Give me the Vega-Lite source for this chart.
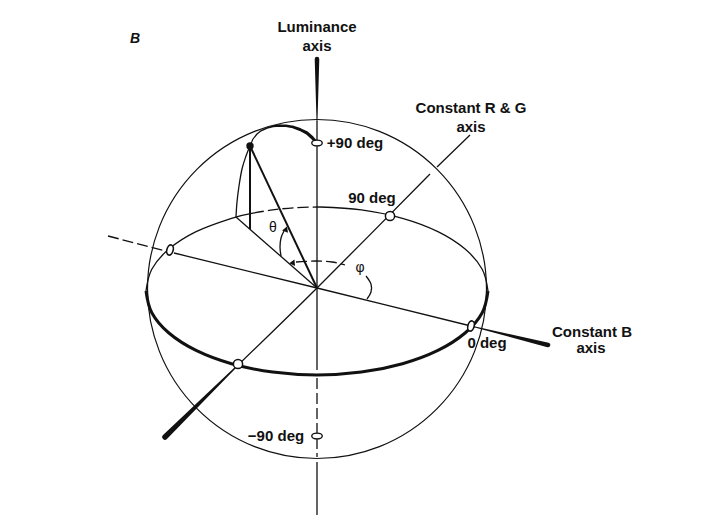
{
  "$schema": "https://vega.github.io/schema/vega-lite/v6.json",
  "width": 716,
  "height": 520,
  "autosize": {"type": "fit", "contains": "padding"},
  "padding": 0,
  "background": "white",
  "config": {"view": {"stroke": null}},
  "datasets": {
    "lines": [
      {"s": "lumIn", "k": "thin", "o": 1, "x": 317, "y": 121},
      {"s": "lumIn", "k": "thin", "o": 2, "x": 317, "y": 370},
      {"s": "lumBot", "k": "thin", "o": 1, "x": 317, "y": 462},
      {"s": "lumBot", "k": "thin", "o": 2, "x": 317, "y": 515},
      {"s": "rgTop", "k": "thin", "o": 1, "x": 470, "y": 135},
      {"s": "rgTop", "k": "thin", "o": 2, "x": 437, "y": 167},
      {"s": "rgIn", "k": "thin", "o": 1, "x": 430, "y": 174},
      {"s": "rgIn", "k": "thin", "o": 2, "x": 317, "y": 288},
      {"s": "rgIn", "k": "thin", "o": 3, "x": 236, "y": 367},
      {"s": "bIn", "k": "thin", "o": 1, "x": 174, "y": 253},
      {"s": "bIn", "k": "thin", "o": 2, "x": 317, "y": 288},
      {"s": "bIn", "k": "thin", "o": 3, "x": 475, "y": 327},
      {"s": "eqBL", "k": "thin", "o": 1, "x": 146, "y": 291},
      {"s": "eqBL", "k": "thin", "o": 2, "x": 151.8, "y": 269.3},
      {"s": "eqBL", "k": "thin", "o": 3, "x": 168.9, "y": 249},
      {"s": "eqBL", "k": "thin", "o": 4, "x": 196.1, "y": 231.6},
      {"s": "eqBL", "k": "thin", "o": 5, "x": 231.5, "y": 218.3},
      {"s": "eqBL", "k": "thin", "o": 6, "x": 253, "y": 213.1},
      {"s": "eqBR", "k": "thin", "o": 1, "x": 320, "y": 207},
      {"s": "eqBR", "k": "thin", "o": 2, "x": 361.3, "y": 209.9},
      {"s": "eqBR", "k": "thin", "o": 3, "x": 402.5, "y": 218.3},
      {"s": "eqBR", "k": "thin", "o": 4, "x": 437.9, "y": 231.6},
      {"s": "eqBR", "k": "thin", "o": 5, "x": 465.1, "y": 249},
      {"s": "eqBR", "k": "thin", "o": 6, "x": 482.2, "y": 269.3},
      {"s": "eqBR", "k": "thin", "o": 7, "x": 488, "y": 291},
      {"s": "mer", "k": "thin", "o": 1, "x": 250, "y": 146},
      {"s": "mer", "k": "thin", "o": 2, "x": 246, "y": 156},
      {"s": "mer", "k": "thin", "o": 3, "x": 242, "y": 169},
      {"s": "mer", "k": "thin", "o": 4, "x": 239, "y": 186},
      {"s": "mer", "k": "thin", "o": 5, "x": 237, "y": 202},
      {"s": "mer", "k": "thin", "o": 6, "x": 236, "y": 217},
      {"s": "proj", "k": "thin", "o": 1, "x": 236, "y": 217},
      {"s": "proj", "k": "thin", "o": 2, "x": 317, "y": 288},
      {"s": "th", "k": "thin", "o": 1, "x": 281, "y": 256},
      {"s": "th", "k": "thin", "o": 2, "x": 280, "y": 247},
      {"s": "th", "k": "thin", "o": 3, "x": 281, "y": 238},
      {"s": "th", "k": "thin", "o": 4, "x": 284, "y": 231},
      {"s": "phS", "k": "thin", "o": 1, "x": 366, "y": 276},
      {"s": "phS", "k": "thin", "o": 2, "x": 371, "y": 284},
      {"s": "phS", "k": "thin", "o": 3, "x": 371, "y": 292},
      {"s": "phS", "k": "thin", "o": 4, "x": 367, "y": 299},
      {"s": "bL", "k": "dash", "o": 1, "x": 108, "y": 236},
      {"s": "bL", "k": "dash", "o": 2, "x": 166, "y": 251},
      {"s": "eqBM", "k": "dash", "o": 1, "x": 253, "y": 213.1},
      {"s": "eqBM", "k": "dash", "o": 2, "x": 272.7, "y": 209.9},
      {"s": "eqBM", "k": "dash", "o": 3, "x": 295, "y": 207.7},
      {"s": "eqBM", "k": "dash", "o": 4, "x": 320, "y": 207},
      {"s": "phD", "k": "dash", "o": 1, "x": 296, "y": 262},
      {"s": "phD", "k": "dash", "o": 2, "x": 315, "y": 261},
      {"s": "phD", "k": "dash", "o": 3, "x": 332, "y": 262},
      {"s": "phD", "k": "dash", "o": 4, "x": 345, "y": 265},
      {"s": "lumD", "k": "dash", "o": 1, "x": 317, "y": 378},
      {"s": "lumD", "k": "dash", "o": 2, "x": 317, "y": 457},
      {"s": "eqF", "k": "thick", "o": 1, "x": 488, "y": 291},
      {"s": "eqF", "k": "thick", "o": 2, "x": 482.2, "y": 312.7},
      {"s": "eqF", "k": "thick", "o": 3, "x": 465.1, "y": 333},
      {"s": "eqF", "k": "thick", "o": 4, "x": 437.9, "y": 350.4},
      {"s": "eqF", "k": "thick", "o": 5, "x": 402.5, "y": 363.7},
      {"s": "eqF", "k": "thick", "o": 6, "x": 361.3, "y": 372.1},
      {"s": "eqF", "k": "thick", "o": 7, "x": 317, "y": 375},
      {"s": "eqF", "k": "thick", "o": 8, "x": 272.7, "y": 372.1},
      {"s": "eqF", "k": "thick", "o": 9, "x": 231.5, "y": 363.7},
      {"s": "eqF", "k": "thick", "o": 10, "x": 196.1, "y": 350.4},
      {"s": "eqF", "k": "thick", "o": 11, "x": 168.9, "y": 333},
      {"s": "eqF", "k": "thick", "o": 12, "x": 151.8, "y": 312.7},
      {"s": "eqF", "k": "thick", "o": 13, "x": 146, "y": 291},
      {"s": "vec", "k": "med", "o": 1, "x": 250, "y": 146},
      {"s": "vec", "k": "med", "o": 2, "x": 317, "y": 288},
      {"s": "drop", "k": "med", "o": 1, "x": 250, "y": 146},
      {"s": "drop", "k": "med", "o": 2, "x": 250, "y": 229}
    ],
    "trails": [
      {"s": "lumT", "o": 1, "x": 317, "y": 59, "tp": 0.8},
      {"s": "lumT", "o": 2, "x": 317, "y": 121, "tp": 0.02},
      {"s": "rgL", "o": 1, "x": 236, "y": 367, "tp": 0.1},
      {"s": "rgL", "o": 2, "x": 165, "y": 437, "tp": 1},
      {"s": "bR", "o": 1, "x": 475, "y": 327, "tp": 0.08},
      {"s": "bR", "o": 2, "x": 548, "y": 345, "tp": 0.8},
      {"s": "arc", "o": 1, "x": 317, "y": 143, "tp": 0.5},
      {"s": "arc", "o": 2, "x": 312, "y": 137.5, "tp": 0.5},
      {"s": "arc", "o": 3, "x": 307, "y": 133, "tp": 0.48},
      {"s": "arc", "o": 4, "x": 300, "y": 129.5, "tp": 0.45},
      {"s": "arc", "o": 5, "x": 293, "y": 127, "tp": 0.4},
      {"s": "arc", "o": 6, "x": 286, "y": 125.7, "tp": 0.35},
      {"s": "arc", "o": 7, "x": 280, "y": 125.5, "tp": 0.3},
      {"s": "arc", "o": 8, "x": 273, "y": 126.3, "tp": 0.22},
      {"s": "arc", "o": 9, "x": 267, "y": 128, "tp": 0.15},
      {"s": "arc", "o": 10, "x": 261, "y": 130.8, "tp": 0.1},
      {"s": "arc", "o": 11, "x": 257, "y": 134, "tp": 0.08},
      {"s": "arc", "o": 12, "x": 253, "y": 139, "tp": 0.06},
      {"s": "arc", "o": 13, "x": 250, "y": 146, "tp": 0.05}
    ],
    "pts": [
      {"k": "sphere", "x": 317, "y": 289},
      {"k": "dot", "x": 250, "y": 146},
      {"k": "mh", "x": 317, "y": 143},
      {"k": "mh", "x": 317, "y": 436},
      {"k": "mc", "x": 390, "y": 216},
      {"k": "mc", "x": 238, "y": 364},
      {"k": "mv", "x": 170, "y": 250},
      {"k": "mv", "x": 471, "y": 326},
      {"k": "ta", "x": 286, "y": 229},
      {"k": "pa", "x": 292, "y": 263}
    ],
    "labels": [
      {"g": "lab", "t": "Luminance", "x": 317, "y": 27},
      {"g": "lab", "t": "axis", "x": 317, "y": 46},
      {"g": "lab", "t": "Constant R & G", "x": 471, "y": 108},
      {"g": "lab", "t": "axis", "x": 471, "y": 127},
      {"g": "lab", "t": "+90 deg", "x": 355, "y": 143},
      {"g": "lab", "t": "90 deg", "x": 372, "y": 198},
      {"g": "lab", "t": "0 deg", "x": 487, "y": 343},
      {"g": "lab", "t": "Constant B", "x": 592, "y": 332},
      {"g": "lab", "t": "axis", "x": 591, "y": 348},
      {"g": "lab", "t": "−90 deg", "x": 276, "y": 436},
      {"g": "greek", "t": "θ", "x": 273, "y": 228},
      {"g": "greek", "t": "φ", "x": 360, "y": 268},
      {"g": "title", "t": "B", "x": 135, "y": 39}
    ]
  },
  "encoding": {
    "x": {"field": "x", "type": "quantitative", "scale": {"domain": [0, 716], "nice": false, "zero": false}, "axis": null},
    "y": {"field": "y", "type": "quantitative", "scale": {"domain": [0, 520], "nice": false, "zero": false, "reverse": true}, "axis": null}
  },
  "layer": [
    {
      "data": {"name": "lines"},
      "transform": [{"filter": "datum.k === 'thin'"}],
      "mark": {"type": "line", "color": "#111", "strokeWidth": 1.3, "interpolate": "cardinal"},
      "encoding": {"detail": {"field": "s"}, "order": {"field": "o", "type": "quantitative"}}
    },
    {
      "data": {"name": "lines"},
      "transform": [{"filter": "datum.k === 'dash'"}],
      "mark": {"type": "line", "color": "#111", "strokeWidth": 1.3, "strokeDash": [11, 4], "interpolate": "cardinal"},
      "encoding": {"detail": {"field": "s"}, "order": {"field": "o", "type": "quantitative"}}
    },
    {
      "data": {"name": "lines"},
      "transform": [{"filter": "datum.k === 'thick'"}],
      "mark": {"type": "line", "color": "#111", "strokeWidth": 3, "interpolate": "cardinal"},
      "encoding": {"detail": {"field": "s"}, "order": {"field": "o", "type": "quantitative"}}
    },
    {
      "data": {"name": "lines"},
      "transform": [{"filter": "datum.k === 'med'"}],
      "mark": {"type": "line", "color": "#111", "strokeWidth": 2},
      "encoding": {"detail": {"field": "s"}, "order": {"field": "o", "type": "quantitative"}}
    },
    {
      "data": {"name": "trails"},
      "mark": {"type": "trail", "color": "#111"},
      "encoding": {
        "detail": {"field": "s"},
        "order": {"field": "o", "type": "quantitative"},
        "size": {"field": "tp", "type": "quantitative", "scale": {"domain": [0, 1], "range": [0.9, 5.5]}, "legend": null}
      }
    },
    {
      "data": {"name": "pts"},
      "transform": [{"filter": "datum.k === 'sphere'"}],
      "mark": {"type": "point", "shape": "circle", "size": 114921, "filled": false, "stroke": "#111", "strokeWidth": 1.2, "opacity": 1}
    },
    {
      "data": {"name": "pts"},
      "transform": [{"filter": "datum.k === 'dot'"}],
      "mark": {"type": "point", "shape": "circle", "size": 55, "filled": true, "color": "#111", "opacity": 1}
    },
    {
      "data": {"name": "pts"},
      "transform": [{"filter": "datum.k === 'mh'"}],
      "mark": {"type": "point", "shape": "M-1,0C-1,-0.304,-0.552,-0.55,0,-0.55C0.552,-0.55,1,-0.304,1,0C1,0.304,0.552,0.55,0,0.55C-0.552,0.55,-1,0.304,-1,0Z", "size": 110, "fill": "white", "stroke": "#111", "strokeWidth": 1.4, "opacity": 1}
    },
    {
      "data": {"name": "pts"},
      "transform": [{"filter": "datum.k === 'mc'"}],
      "mark": {"type": "point", "shape": "circle", "size": 85, "fill": "white", "stroke": "#111", "strokeWidth": 1.5, "opacity": 1}
    },
    {
      "data": {"name": "pts"},
      "transform": [{"filter": "datum.k === 'mv'"}],
      "mark": {"type": "point", "shape": "M-0.6,0C-0.6,-0.552,-0.331,-1,0,-1C0.331,-1,0.6,-0.552,0.6,0C0.6,0.552,0.331,1,0,1C-0.331,1,-0.6,0.552,-0.6,0Z", "size": 110, "angle": 15, "fill": "white", "stroke": "#111", "strokeWidth": 1.6, "opacity": 1}
    },
    {
      "data": {"name": "pts"},
      "transform": [{"filter": "datum.k === 'ta'"}],
      "mark": {"type": "point", "shape": "triangle-up", "size": 40, "angle": 20, "filled": true, "color": "#111", "opacity": 1}
    },
    {
      "data": {"name": "pts"},
      "transform": [{"filter": "datum.k === 'pa'"}],
      "mark": {"type": "point", "shape": "triangle-left", "size": 40, "angle": -5, "filled": true, "color": "#111", "opacity": 1}
    },
    {
      "data": {"name": "labels"},
      "transform": [{"filter": "datum.g === 'lab'"}],
      "mark": {"type": "text", "font": "Liberation Sans", "fontSize": 15, "fontWeight": "bold", "color": "#111", "align": "center", "baseline": "middle"},
      "encoding": {"text": {"field": "t"}}
    },
    {
      "data": {"name": "labels"},
      "transform": [{"filter": "datum.g === 'greek'"}],
      "mark": {"type": "text", "font": "Liberation Sans", "fontSize": 14, "color": "#111", "align": "center", "baseline": "middle"},
      "encoding": {"text": {"field": "t"}}
    },
    {
      "data": {"name": "labels"},
      "transform": [{"filter": "datum.g === 'title'"}],
      "mark": {"type": "text", "font": "Liberation Sans", "fontSize": 14, "fontWeight": "bold", "fontStyle": "italic", "color": "#111", "align": "center", "baseline": "middle"},
      "encoding": {"text": {"field": "t"}}
    }
  ]
}
